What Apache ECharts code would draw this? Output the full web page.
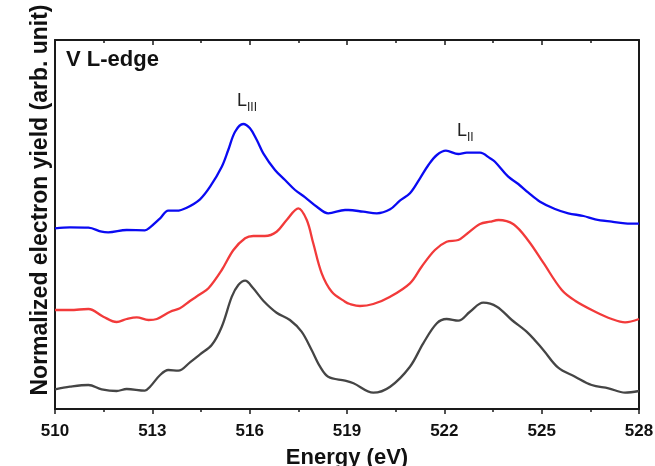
<!DOCTYPE html>
<html>
<head>
<meta charset="utf-8">
<script src="https://cdn.jsdelivr.net/npm/echarts@6/dist/echarts.min.js"></script>
<style>
    html, body {margin: 0; padding: 0; background: #fff;}
    #chart {width: 655px; height: 466px;}
</style>
</head>
<body>
<div id="chart"></div>
<script>
// energies (eV) and normalized yield (arb. unit, offset per curve)
var energyBlue = [510.0, 510.46, 511.03, 511.44, 511.64, 512.21, 512.77, 512.93, 513.24, 513.49, 513.75, 514.06,
    514.47, 514.78, 515.14, 515.34, 515.55, 515.80, 516.01, 516.22, 516.42, 516.78, 517.09, 517.40, 517.71,
    518.07, 518.42, 518.94, 519.04, 519.50, 519.92, 520.33, 520.63, 520.94, 521.25, 521.51, 521.77, 522.05,
    522.43, 522.69, 523.10, 523.41, 523.56, 523.97, 524.28, 524.59, 524.95, 525.41, 525.82, 526.29, 526.65,
    527.16, 527.57, 528.0];
var yieldBlue = [180.7, 181.7, 181.3, 177.3, 176.7, 179, 178.7, 181.7, 190.7, 198.3, 198.3, 201.3,
    209.7, 222.3, 242.3, 259, 277.3, 285, 280.7, 269, 255.7, 239, 229, 219, 211.7,
    202.3, 195.7, 199, 199, 197.3, 195.7, 199.7, 208.3, 215.7, 230.7, 244, 254, 258.3,
    255, 256.3, 256.3, 250.7, 247.3, 232.3, 225, 216.3, 207.3, 200, 195.7, 193, 189.7,
    187.3, 185.7, 185.3];

var energyRed = [510.0, 510.46, 511.03, 511.49, 511.90, 512.21, 512.52, 512.88, 513.14, 513.55, 513.85, 514.16,
    514.47, 514.73, 515.14, 515.50, 515.86, 516.11, 516.47, 516.83, 517.14, 517.50, 517.76, 517.96, 518.22,
    518.53, 518.94, 519.09, 519.40, 519.81, 520.33, 520.94, 521.30, 521.71, 522.07, 522.43, 522.69, 523.10,
    523.41, 523.67, 524.13, 524.59, 525.05, 525.62, 526.03, 526.65, 527.16, 527.57, 528.0];
var yieldRed = [99, 99, 100, 92.3, 87, 90, 91.7, 89, 90, 97.3, 100.7, 108,
    114.7, 120.7, 139, 159, 170.7, 173, 173, 177.3, 189, 200.7, 189, 165.7, 135.7,
    117.3, 107.3, 105, 103, 105, 112.3, 125.7, 142.3, 159, 167.3, 169, 175, 185,
    187.3, 189, 184.7, 168.3, 146.3, 119, 108.3, 97.3, 90, 86.7, 90];

var energyBlack = [510.0, 510.46, 511.03, 511.44, 511.90, 512.21, 512.77, 512.93, 513.24, 513.49, 513.80, 514.16,
    514.47, 514.83, 515.14, 515.45, 515.65, 515.86, 516.11, 516.42, 516.83, 517.24, 517.60, 517.91, 518.17,
    518.42, 518.94, 519.20, 519.81, 520.33, 520.94, 521.35, 521.77, 522.07, 522.43, 522.79, 523.20, 523.62,
    524.08, 524.59, 525.05, 525.51, 526.03, 526.54, 527.06, 527.57, 528.0];
var yieldBlack = [19.7, 22.3, 24, 19.7, 18, 20, 18.3, 22.3, 34, 39, 38.3, 46.7,
    54.7, 64, 82.3, 112.3, 124, 128.3, 120.7, 108.3, 96.3, 89, 77.3, 59, 42.3,
    32.3, 28.3, 25.7, 16.3, 22.3, 42.3, 65.7, 85.7, 90, 88.3, 97.3, 106.3, 102.3,
    89, 75.7, 59, 41.3, 32.3, 24, 20.7, 16.3, 18];

var xTicks = {min: 510, max: 528, interval: 3};
var yRange = {min: 0, max: 369};

function zip(xs, ys) {
    return xs.map(function(x, i) {
        return [x, ys[i]];
    });
}

var axisColor = '#1a1a1a';
var font = '"Liberation Sans", Arial, sans-serif';

function spectrum(name, color, xs, ys) {
    return {
        name: name,
        type: 'line',
        data: zip(xs, ys),
        smooth: 0.35,
        showSymbol: false,
        lineStyle: {color: color, width: 2.3},
        z: 3
    };
}

var chart = echarts.init(document.getElementById('chart'), null, {renderer: 'canvas'});

var option = {
    animation: false,
    backgroundColor: '#fff',
    grid: {left: 55, right: 16, top: 40, bottom: 57, outerBoundsMode: 'none', containLabel: false},
    xAxis: [{
        type: 'value',
        position: 'bottom',
        min: xTicks.min,
        max: xTicks.max,
        interval: xTicks.interval,
        name: 'Energy (eV)',
        nameLocation: 'middle',
        nameGap: 38,
        nameTextStyle: {fontFamily: font, fontSize: 22, fontWeight: 'bold', color: '#111'},
        axisLine: {show: true, onZero: false, lineStyle: {color: axisColor, width: 2}},
        axisTick: {show: true, inside: false, length: 5, lineStyle: {color: axisColor, width: 1.5}},
        minorTick: {show: true, splitNumber: 2, length: 3, lineStyle: {color: axisColor, width: 1.5}},
        axisLabel: {fontFamily: font, fontSize: 17, fontWeight: 'bold', color: '#111', margin: 14},
        splitLine: {show: false}
    }, {
        type: 'value',
        position: 'top',
        min: xTicks.min,
        max: xTicks.max,
        interval: xTicks.interval,
        axisLine: {show: true, onZero: false, lineStyle: {color: axisColor, width: 2}},
        axisTick: {show: true, inside: true, length: 5, lineStyle: {color: axisColor, width: 1.5}},
        minorTick: {show: true, splitNumber: 2, length: 3, lineStyle: {color: axisColor, width: 1.5}},
        axisLabel: {show: false},
        splitLine: {show: false}
    }],
    yAxis: [{
        type: 'value',
        position: 'left',
        min: yRange.min,
        max: yRange.max,
        axisLine: {show: true, onZero: false, lineStyle: {color: axisColor, width: 2}},
        axisTick: {show: false},
        axisLabel: {show: false},
        splitLine: {show: false}
    }, {
        type: 'value',
        position: 'right',
        min: yRange.min,
        max: yRange.max,
        axisLine: {show: true, onZero: false, lineStyle: {color: axisColor, width: 2}},
        axisTick: {show: false},
        axisLabel: {show: false},
        splitLine: {show: false}
    }],
    series: [
        spectrum('blue', '#0a0af2', energyBlue, yieldBlue),
        spectrum('red', '#f23a3a', energyRed, yieldRed),
        spectrum('black', '#454545', energyBlack, yieldBlack)
    ],
    graphic: [{
        type: 'text',
        x: 41,
        y: 200,
        rotation: Math.PI / 2,
        style: {
            text: 'Normalized electron yield (arb. unit)',
            font: 'bold 23px ' + font,
            fill: '#111',
            align: 'center',
            verticalAlign: 'middle'
        }
    }, {
        type: 'text',
        x: 66,
        y: 59.5,
        style: {text: 'V L-edge', font: 'bold 22px ' + font, fill: '#111', align: 'left', verticalAlign: 'middle'}
    }, {
        type: 'text',
        x: 237,
        y: 101,
        style: {text: 'L', font: '18px ' + font, fill: '#222', align: 'left', verticalAlign: 'middle'}
    }, {
        type: 'text',
        x: 247,
        y: 107.5,
        style: {text: 'III', font: '12px ' + font, fill: '#222', align: 'left', verticalAlign: 'middle'}
    }, {
        type: 'text',
        x: 457,
        y: 131,
        style: {text: 'L', font: '18px ' + font, fill: '#222', align: 'left', verticalAlign: 'middle'}
    }, {
        type: 'text',
        x: 467,
        y: 137.5,
        style: {text: 'II', font: '12px ' + font, fill: '#222', align: 'left', verticalAlign: 'middle'}
    }]
};

chart.setOption(option);
</script>
</body>
</html>
